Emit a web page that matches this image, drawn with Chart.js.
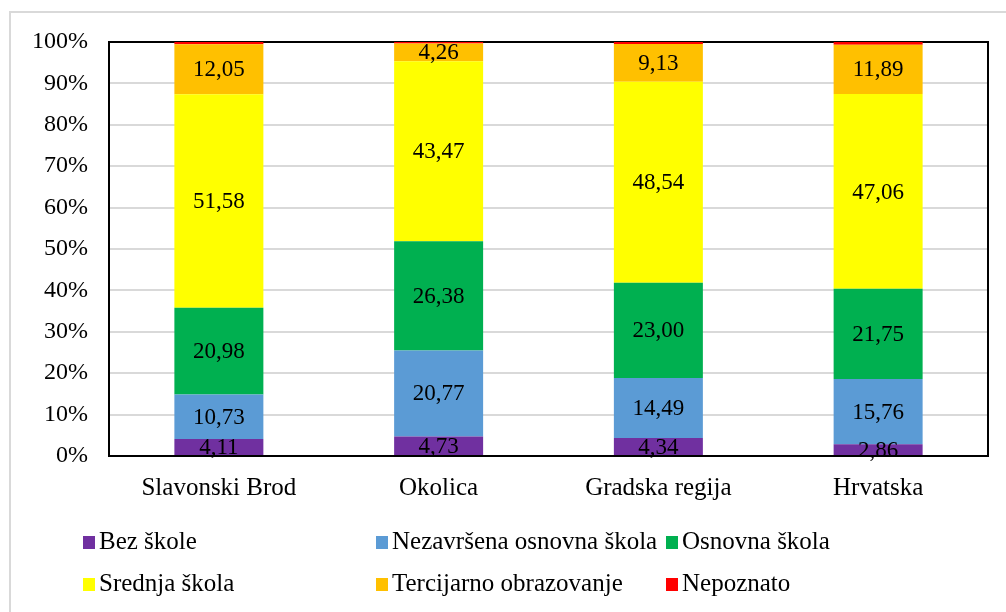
<!DOCTYPE html>
<html>
<head>
<meta charset="utf-8">
<script src="https://cdn.jsdelivr.net/npm/chart.js@4"></script>
<style>
  body { margin: 0; background: #fff; overflow: hidden; }
  #wrap { position: relative; width: 1006px; height: 612px; }
  #frame { position: absolute; left: 9px; top: 11px; width: 1010px; height: 620px; border: 2px solid #d9d9d9; box-sizing: border-box; }
  canvas { position: absolute; left: 0; top: 0; }
  .leg { position: absolute; font-family: "Liberation Serif", "Times New Roman", serif; font-size: 25px; line-height: 28px; color: #000; white-space: nowrap; }
  .leg span { display: inline-block; width: 12px; height: 13px; margin-right: 4px; vertical-align: 0px; }
</style>
</head>
<body>
<div id="wrap">
  <div id="frame"></div>
  <canvas id="chart" width="1006" height="612"></canvas>
</div>
<script>
// Data
const categories = ['Slavonski Brod', 'Okolica', 'Gradska regija', 'Hrvatska'];
const seriesNames = ['Bez škole', 'Nezavršena osnovna škola', 'Osnovna škola', 'Srednja škola', 'Tercijarno obrazovanje', 'Nepoznato'];
const bezSkole = [4.11, 4.73, 4.34, 2.86];
const nezavrsena = [10.73, 20.77, 14.49, 15.76];
const osnovna = [20.98, 26.38, 23.00, 21.75];
const srednja = [51.58, 43.47, 48.54, 47.06];
const tercijarno = [12.05, 4.26, 9.13, 11.89];
const nepoznato = [0.55, 0.39, 0.50, 0.68];
const colors = ['#7030a0', '#5b9bd5', '#00b050', '#ffff00', '#ffc000', '#ff0000'];
const yTicks = [0, 10, 20, 30, 40, 50, 60, 70, 80, 90, 100];

const seriesValues = [bezSkole, nezavrsena, osnovna, srednja, tercijarno, nepoznato];
const FONT = '"Liberation Serif", "Times New Roman", serif';

// Black box round the plot area, drawn under the bars
const plotBorder = {
    id: 'plotBorder',
    beforeDatasetsDraw(chart) {
        const { ctx, chartArea: a } = chart;
        ctx.save();
        ctx.strokeStyle = '#000';
        ctx.lineWidth = 2;
        ctx.strokeRect(a.left, a.top, a.right - a.left, a.bottom - a.top);
        ctx.restore();
    }
};

// Value labels in the middle of each segment (no label for Nepoznato)
const valueLabels = {
    id: 'valueLabels',
    afterDatasetsDraw(chart) {
        const { ctx, chartArea: a } = chart;
        ctx.save();
        ctx.font = '23px ' + FONT;
        ctx.fillStyle = '#000';
        ctx.textAlign = 'center';
        ctx.textBaseline = 'middle';
        chart.data.datasets.forEach((ds, i) => {
            if (i === 5) return;
            chart.getDatasetMeta(i).data.forEach((bar, j) => {
                const y = (bar.y + bar.base) / 2;
                ctx.fillText(ds.data[j].toFixed(2).replace('.', ','), bar.x, y + 1);
            });
        });
        // bottom axis line goes over the lowest labels
        ctx.strokeStyle = '#000';
        ctx.lineWidth = 2;
        ctx.beginPath();
        ctx.moveTo(a.left - 1, a.bottom);
        ctx.lineTo(a.right + 1, a.bottom);
        ctx.stroke();
        ctx.restore();
    }
};

const chart = new Chart(document.getElementById('chart'), {
    type: 'bar',
    data: {
        labels: categories,
        datasets: seriesNames.map((name, i) => ({
            label: name,
            data: seriesValues[i],
            backgroundColor: colors[i],
            borderWidth: 0,
            categoryPercentage: 1,
            barPercentage: 0.405
        }))
    },
    options: {
        responsive: false,
        animation: false,
        layout: { padding: { left: 10, top: 42, right: 18, bottom: 96 } },
        plugins: { legend: { display: false }, tooltip: { enabled: false } },
        scales: {
            x: {
                stacked: true,
                grid: { display: false },
                border: { display: false },
                ticks: { color: '#000', font: { family: FONT, size: 25 }, padding: 9 },
                afterFit(scale) { scale.height = 60; }
            },
            y: {
                stacked: true,
                min: 0,
                max: 100,
                afterBuildTicks(scale) { scale.ticks = yTicks.map(v => ({ value: v })); },
                ticks: { color: '#000', font: { family: FONT, size: 24 }, padding: 21, callback: v => v + '%' },
                grid: { color: '#d9d9d9', lineWidth: 2, drawTicks: false },
                border: { display: false },
                afterFit(scale) { scale.width = 99; }
            }
        }
    },
    plugins: [plotBorder, valueLabels]
});

// Legend, two rows of three
const legendX = [83, 376, 666];
const legendY = [527, 569];
seriesNames.forEach((name, i) => {
    const d = document.createElement('div');
    d.className = 'leg';
    d.style.left = legendX[i % 3] + 'px';
    d.style.top = legendY[Math.floor(i / 3)] + 'px';
    d.innerHTML = '<span style="background:' + colors[i] + '"></span>' + name;
    document.getElementById('wrap').appendChild(d);
});
</script>
</body>
</html>
